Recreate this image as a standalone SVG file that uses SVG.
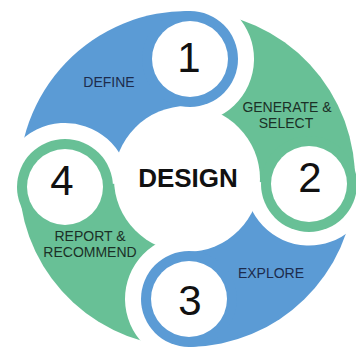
<svg xmlns="http://www.w3.org/2000/svg" width="356" height="348" viewBox="0 0 356 348">
  <style>
    .blue { fill: #5b9bd5; }
    .green { fill: #68c096; }
    .white { fill: #ffffff; }
    .label { font-family: "Liberation Sans", Arial, sans-serif; font-size: 14px; text-anchor: middle; }
    .label-blue { fill: #1d2b4c; }
    .label-green { fill: #1b3026; }
    .num { font-family: "Liberation Sans", Arial, sans-serif; font-size: 42px; fill: #111111; text-anchor: middle; }
    .hub-text { font-family: "Liberation Sans", Arial, sans-serif; font-size: 26px; font-weight: bold; fill: #111111; text-anchor: middle; }
  </style>

  <!-- quarter segments of the cycle, centre (187,179), radius 168 -->
  <g id="seg-define">
    <path class="blue" d="M187,179 L19.4,190 A168,168 0 0 1 191.2,11.1 Z"/>
  </g>
  <g id="seg-generate">
    <path class="green" d="M187,179 L191.2,11.1 A168,168 0 0 1 354.9,185.9 Z"/>
  </g>
  <g id="seg-explore">
    <path class="blue" d="M187,179 L354.9,185.9 A168,168 0 0 1 189.8,347 Z"/>
  </g>
  <g id="seg-report">
    <path class="green" d="M187,179 L189.8,347 A168,168 0 0 1 19.4,190 Z"/>
  </g>

  <!-- central hub -->
  <g id="hub">
    <circle class="white" cx="187" cy="179" r="73"/>
    <text class="hub-text" x="188" y="187">DESIGN</text>
  </g>

  <!-- numbered badges: white clearance on the following segment, coloured ring, white face -->
  <g id="step-1">
    <path class="white" d="M191.6,-5 A64,64 0 0 1 188.4,123 Z"/>
    <circle class="blue" cx="190" cy="59" r="48"/>
    <circle class="white" cx="190" cy="59" r="38"/>
    <text class="num" x="189" y="72">1</text>
  </g>
  <g id="step-2">
    <path class="white" d="M372.9,186.6 A64,64 0 0 1 245.1,181.4 Z"/>
    <circle class="green" cx="309" cy="184" r="48"/>
    <circle class="white" cx="309" cy="184" r="38"/>
    <text class="num" x="310" y="192">2</text>
  </g>
  <g id="step-3">
    <path class="white" d="M190.1,363 A64,64 0 0 1 187.9,235 Z"/>
    <circle class="blue" cx="189" cy="299" r="48"/>
    <circle class="white" cx="189" cy="299" r="38"/>
    <text class="num" x="190" y="315">3</text>
  </g>
  <g id="step-4">
    <path class="white" d="M1.1,191.2 A64,64 0 0 1 128.9,182.8 Z"/>
    <circle class="green" cx="65" cy="187" r="48"/>
    <circle class="white" cx="65" cy="187" r="38"/>
    <text class="num" x="62" y="195">4</text>
  </g>

  <!-- segment captions, drawn above the badge rings -->
  <g id="label-define">
    <text class="label label-blue" x="109" y="87">DEFINE</text>
  </g>
  <g id="label-generate">
    <text class="label label-green" x="287" y="112">GENERATE &amp;</text>
    <text class="label label-green" x="286" y="128">SELECT</text>
  </g>
  <g id="label-explore">
    <text class="label label-blue" x="271" y="278">EXPLORE</text>
  </g>
  <g id="label-report">
    <text class="label label-green" x="90" y="241">REPORT &amp;</text>
    <text class="label label-green" x="90" y="257">RECOMMEND</text>
  </g>

  <g id="connectors"/>
</svg>
